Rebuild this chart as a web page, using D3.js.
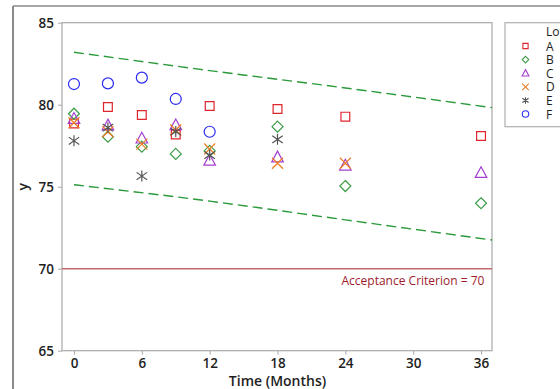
<!DOCTYPE html>
<html>
<head>
<meta charset="utf-8">
<script src="https://cdn.jsdelivr.net/npm/d3@7"></script>
<style>
  body { margin: 0; background: #fff; }
  svg text { font-family: "Open Sans", "Noto Sans", sans-serif; }
</style>
</head>
<body>
<svg id="chart" width="560" height="389"></svg>
<script>
// data
var lots = ["A", "B", "C", "D", "E", "F"];
var lotColors = ["#e0242c", "#3c9c48", "#a53fd1", "#ee7d22", "#555555", "#2b2bf0"];
var lotShapes = ["square", "diamond", "triangle", "x", "asterisk", "circle"];

var times = [0, 3, 6, 9, 12, 18, 24, 36];
var lotA = [78.85, 79.86, 79.37, 78.18, 79.92, 79.74, 79.27, 78.09];
var lotB = [79.45, 78.05, 77.44, 77.0, 77.18, 78.66, 75.04, 73.99];
var lotC = [79.15, 78.75, 77.95, 78.76, 76.6, 76.8, 76.3, 75.85];
var lotD = [78.9, 78.35, 77.6, 78.46, 77.3, 76.43, 76.43];
var lotE = [77.8, 78.6, 75.65, 78.36, 76.93, 77.89];
var lotF = [81.26, 81.3, 81.65, 80.35, 78.35];
var lotValues = [lotA, lotB, lotC, lotD, lotE, lotF];

var bandTimes = [0, 12, 24, 36.97];
var bandUpper = [83.2, 82.08, 81.02, 79.82];
var bandLower = [75.12, 74.12, 72.98, 71.75];

var criterion = 70;
var xTicks = [0, 6, 12, 18, 24, 30, 36];
var yTicks = [65, 70, 75, 80, 85];

var svg = d3.select("#chart");

// outer frame (cropped window)
svg.append("line").attr("x1", 13).attr("x2", 13).attr("y1", 6).attr("y2", 389)
    .attr("stroke", "#8a8a8a").attr("stroke-width", 2);
svg.append("line").attr("x1", 13).attr("x2", 560).attr("y1", 6).attr("y2", 6)
    .attr("stroke", "#8a8a8a").attr("stroke-width", 1.5);

var plot = { left: 62, right: 492, top: 22.7, bottom: 350.7 };

var x = d3.scaleLinear().domain([-1.06, 36.97]).range([plot.left, plot.right]);
var y = d3.scaleLinear().domain([65, 85]).range([plot.bottom, plot.top]);

// plot box
svg.append("rect")
    .attr("x", plot.left).attr("y", plot.top)
    .attr("width", plot.right - plot.left).attr("height", plot.bottom - plot.top)
    .attr("fill", "none").attr("stroke", "#a8a8a8").attr("stroke-width", 1.2);

var xAxis = svg.append("g").attr("transform", "translate(0," + plot.bottom + ")")
    .call(d3.axisBottom(x).tickValues(xTicks).tickSize(4).tickPadding(4));
var yAxis = svg.append("g").attr("transform", "translate(" + plot.left + ",0)")
    .call(d3.axisLeft(y).tickValues(yTicks).tickSize(4).tickPadding(4));

[xAxis, yAxis].forEach(function(g) {
    g.select(".domain").remove();
    g.selectAll(".tick line").attr("stroke", "#a8a8a8");
    g.selectAll(".tick text")
        .attr("fill", "#1e1e1e")
        .style("font-size", "13.5px")
        .style("font-weight", "600")
        .style("font-family", "\"Open Sans\", sans-serif");
});

svg.append("text")
    .attr("x", x(18)).attr("y", 386)
    .attr("text-anchor", "middle")
    .attr("fill", "#1e1e1e")
    .style("font-size", "14px").style("font-weight", "600")
    .text("Time (Months)");

svg.append("text")
    .attr("transform", "translate(28," + y(75) + ") rotate(-90)")
    .attr("text-anchor", "middle")
    .attr("fill", "#1e1e1e")
    .style("font-size", "14px").style("font-weight", "600")
    .text("y");

// acceptance criterion
svg.append("line")
    .attr("x1", plot.left).attr("x2", plot.right)
    .attr("y1", y(criterion)).attr("y2", y(criterion))
    .attr("stroke", "#c26a6a").attr("stroke-width", 1.6);
svg.append("text")
    .attr("x", x(36.3)).attr("y", y(criterion) + 16)
    .attr("text-anchor", "end")
    .attr("fill", "#9c1c2c")
    .style("font-size", "12px")
    .text("Acceptance Criterion = " + criterion);

// confidence band
var band = d3.line()
    .x(function(d) { return x(d[0]); })
    .y(function(d) { return y(d[1]); })
    .curve(d3.curveMonotoneX);

[bandUpper, bandLower].forEach(function(vals) {
    svg.append("path")
        .datum(d3.zip(bandTimes, vals))
        .attr("d", band)
        .attr("fill", "none")
        .attr("stroke", "#2a9a3a")
        .attr("stroke-width", 1.4)
        .attr("stroke-dasharray", "10,5");
});

// marker shapes
function markerPath(shape, s) {
    var h = s / 2;
    switch (shape) {
    case "square":
        return "M" + (-h * 0.8) + "," + (-h * 0.8) + "h" + (s * 0.8) + "v" + (s * 0.8) + "h" + (-s * 0.8) + "Z";
    case "diamond":
        return "M0," + (-h) + "L" + h + ",0L0," + h + "L" + (-h) + ",0Z";
    case "triangle":
        return "M0," + (-h * 1.1) + "L" + (h * 1.05) + "," + (h * 0.85) + "L" + (-h * 1.05) + "," + (h * 0.85) + "Z";
    case "x":
        return "M" + (-h) + "," + (-h) + "L" + h + "," + h + "M" + h + "," + (-h) + "L" + (-h) + "," + h;
    case "asterisk":
        var a = h * 0.95;
        return "M0," + (-h) + "V" + h +
            "M" + (-a) + "," + (-a * 0.7) + "L" + a + "," + (a * 0.7) +
            "M" + a + "," + (-a * 0.7) + "L" + (-a) + "," + (a * 0.7);
    default:
        return d3.arc()({ innerRadius: 0, outerRadius: h, startAngle: 0, endAngle: 2 * Math.PI });
    }
}

lots.forEach(function(lot, i) {
    var pts = d3.zip(times.slice(0, lotValues[i].length), lotValues[i]);
    svg.append("g").attr("class", "lot-" + lot)
        .selectAll("path")
        .data(pts)
        .join("path")
        .attr("transform", function(d) { return "translate(" + x(d[0]) + "," + y(d[1]) + ")"; })
        .attr("d", markerPath(lotShapes[i], 11))
        .attr("fill", "none")
        .attr("stroke", lotColors[i])
        .attr("stroke-width", 1.2);
});

// legend
var legend = svg.append("g");
legend.append("rect")
    .attr("x", 505).attr("y", 22.7).attr("width", 70).attr("height", 104)
    .attr("fill", "#fff").attr("stroke", "#b0b0b0").attr("stroke-width", 1.2);
legend.append("text")
    .attr("x", 546).attr("y", 36)
    .attr("fill", "#1e1e1e").style("font-size", "12px")
    .text("Lot");

var legendY = d3.scalePoint().domain(lots).range([46, 114]);
lots.forEach(function(lot, i) {
    legend.append("path")
        .attr("transform", "translate(525.5," + legendY(lot) + ")")
        .attr("d", markerPath(lotShapes[i], 6.5))
        .attr("fill", "none")
        .attr("stroke", lotColors[i])
        .attr("stroke-width", 1.1);
    legend.append("text")
        .attr("x", 546).attr("y", legendY(lot) + 4.5)
        .attr("fill", "#1e1e1e").style("font-size", "12px")
        .text(lot);
});
</script>
</body>
</html>
